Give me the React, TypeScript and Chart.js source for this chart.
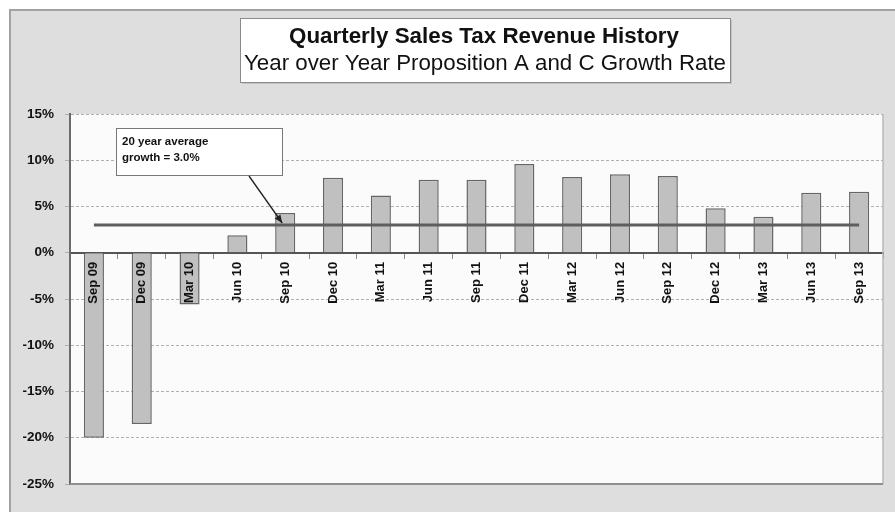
import React, { useEffect, useRef } from "react";
import { Chart, registerables } from "chart.js";

Chart.register(...registerables);

const categories = [
  "Sep 09", "Dec 09", "Mar 10", "Jun 10", "Sep 10", "Dec 10", "Mar 11", "Jun 11",
  "Sep 11", "Dec 11", "Mar 12", "Jun 12", "Sep 12", "Dec 12", "Mar 13", "Jun 13", "Sep 13",
];
const growthValues = [
  -20.0, -18.5, -5.6, 1.9, 4.3, 8.1, 6.2, 7.9, 7.9, 9.6, 8.2, 8.5, 8.3, 4.8, 3.9, 6.5, 6.6,
];
const averageGrowth = 3.0;
const yMin = -25;
const yMax = 15;
const yStep = 5;
const titleLine1 = "Quarterly Sales Tax Revenue History";
const titleLine2 = "Year over Year Proposition A and C Growth Rate";
const noteLines = ["20 year average", "growth = 3.0%"];

const FONT = "Arial, 'Liberation Sans', sans-serif";

function fitText(ctx: CanvasRenderingContext2D, text: string, cx: number, cy: number, width: number, font: string) {
  ctx.save();
  ctx.font = font;
  const w = ctx.measureText(text).width;
  const s = width / w;
  ctx.translate(cx, cy);
  ctx.scale(s, 1);
  ctx.textAlign = "center";
  ctx.textBaseline = "middle";
  ctx.fillStyle = "#111";
  ctx.fillText(text, 0, 0);
  ctx.restore();
}

const decorPlugin = {
  id: "decor",
  beforeDraw(chart: any) {
    const { ctx, chartArea: a, width, height } = chart;
    ctx.save();
    ctx.fillStyle = "#ffffff";
    ctx.fillRect(0, 0, width, height);
    ctx.fillStyle = "#dedede";
    ctx.fillRect(9, 9, width - 9, height - 9);
    ctx.strokeStyle = "#a2a2a2";
    ctx.lineWidth = 2;
    ctx.beginPath();
    ctx.moveTo(10, height);
    ctx.lineTo(10, 10);
    ctx.lineTo(width, 10);
    ctx.stroke();
    ctx.fillStyle = "#fbfbfb";
    ctx.fillRect(a.left, a.top, a.right - a.left, a.bottom - a.top);
    ctx.restore();
  },
  beforeDatasetsDraw(chart: any) {
    const { ctx, chartArea: a } = chart;
    ctx.save();
    ctx.strokeStyle = "#b8b8b8";
    ctx.lineWidth = 1.5;
    ctx.beginPath();
    ctx.moveTo(a.right, a.top);
    ctx.lineTo(a.right, a.bottom);
    ctx.stroke();
    ctx.strokeStyle = "#909090";
    ctx.lineWidth = 2;
    ctx.beginPath();
    ctx.moveTo(a.left, a.bottom);
    ctx.lineTo(a.right, a.bottom);
    ctx.stroke();
    ctx.restore();
  },
  afterDraw(chart: any) {
    const { ctx, chartArea: a, scales } = chart;
    ctx.save();
    // Title box
    const bx = 240, by = 18, bw = 490, bh = 64;
    ctx.fillStyle = "rgba(0,0,0,0.12)";
    ctx.fillRect(bx + 2, by + 2, bw, bh);
    ctx.fillStyle = "#ffffff";
    ctx.fillRect(bx, by, bw, bh);
    ctx.strokeStyle = "#8a8a8a";
    ctx.lineWidth = 1;
    ctx.strokeRect(bx + 0.5, by + 0.5, bw, bh);
    fitText(ctx, titleLine1, bx + bw / 2 - 1, 37, 390, `bold 22px ${FONT}`);
    fitText(ctx, titleLine2, bx + bw / 2, 64, 482, `22px ${FONT}`);

    // Note box
    const nx = a.left + 46, ny = a.top + 14, nw = 166, nh = 47;
    ctx.fillStyle = "#ffffff";
    ctx.fillRect(nx, ny, nw, nh);
    ctx.strokeStyle = "#777";
    ctx.lineWidth = 1;
    ctx.strokeRect(nx + 0.5, ny + 0.5, nw, nh);
    ctx.fillStyle = "#111";
    ctx.font = `bold 11.5px ${FONT}`;
    ctx.textAlign = "left";
    ctx.textBaseline = "middle";
    ctx.fillText(noteLines[0], nx + 6, ny + 14);
    ctx.fillText(noteLines[1], nx + 6, ny + 30);

    // Arrow
    const sx = nx + 133, sy = ny + nh + 1;
    const tx = scales.x.getPixelForValue(4) - 3;
    const ty = scales.y.getPixelForValue(averageGrowth) - 2;
    ctx.strokeStyle = "#222";
    ctx.lineWidth = 1.3;
    ctx.beginPath();
    ctx.moveTo(sx, sy);
    ctx.lineTo(tx, ty);
    ctx.stroke();
    const ang = Math.atan2(ty - sy, tx - sx);
    const L = 8, W = 3.5;
    ctx.fillStyle = "#222";
    ctx.beginPath();
    ctx.moveTo(tx, ty);
    ctx.lineTo(tx - L * Math.cos(ang) + W * Math.sin(ang), ty - L * Math.sin(ang) - W * Math.cos(ang));
    ctx.lineTo(tx - L * Math.cos(ang) - W * Math.sin(ang), ty - L * Math.sin(ang) + W * Math.cos(ang));
    ctx.closePath();
    ctx.fill();
    ctx.restore();
  },
};

export default function App() {
  const ref = useRef<HTMLCanvasElement | null>(null);

  useEffect(() => {
    document.body.style.margin = "0";
    const canvas = ref.current;
    if (!canvas) return;
    const chart = new Chart(canvas, {
      type: "bar",
      data: {
        labels: categories,
        datasets: [
          {
            type: "line",
            label: "20 year average",
            data: categories.map(() => averageGrowth),
            borderColor: "#5e5e5e",
            borderWidth: 3,
            pointRadius: 0,
            fill: false,
            order: 0,
          } as any,
          {
            type: "bar",
            label: "Growth",
            data: growthValues,
            backgroundColor: "#c0c0c0",
            borderColor: "#666666",
            borderWidth: 1.5,
            categoryPercentage: 1,
            barPercentage: 0.42,
            order: 1,
          },
        ],
      },
      options: {
        animation: false,
        responsive: true,
        maintainAspectRatio: false,
        layout: { padding: { left: 8, top: 114, right: 12, bottom: 28 } },
        plugins: {
          legend: { display: false },
          tooltip: { enabled: false },
          title: { display: false },
        },
        scales: {
          x: {
            type: "category",
            position: { y: 0 } as any,
            offset: true,
            grid: {
              display: true,
              drawOnChartArea: false,
              drawTicks: true,
              tickLength: 5,
              color: "#888",
              offset: true,
            },
            border: { display: true, color: "#555", width: 2 },
            ticks: {
              minRotation: 90,
              maxRotation: 90,
              autoSkip: false,
              padding: 4,
              z: 1,
              color: "#111",
              font: { family: FONT, weight: "bold", size: 13 },
            } as any,
            afterFit: (s: any) => {
              s.height = 0;
            },
          },
          y: {
            min: yMin,
            max: yMax,
            ticks: {
              stepSize: yStep,
              padding: 11,
              color: "#111",
              font: { family: FONT, weight: "bold", size: 13.5 },
              callback: (v: any) => `${v}%`,
            },
            grid: { color: "#b0b0b0", tickLength: 5, lineWidth: 1 },
            border: { display: true, color: "#6a6a6a", width: 2, dash: [3, 2] },
            afterFit: (s: any) => {
              s.width = 62;
            },
          },
        },
      },
      plugins: [decorPlugin],
    });
    return () => chart.destroy();
  }, []);

  return (
    <div style={{ width: 895, height: 512, position: "relative" }}>
      <canvas ref={ref} />
    </div>
  );
}
